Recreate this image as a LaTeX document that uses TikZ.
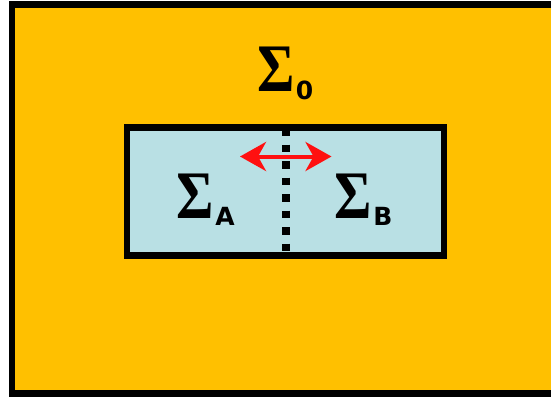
\documentclass[tikz,border=0pt]{standalone}
\usepackage{fontspec}
\usetikzlibrary{arrows.meta}
\newfontfamily\sigfont{Liberation Serif Bold}
\newfontfamily\subfont{DejaVu Sans Bold}
\definecolor{outerfill}{HTML}{FFC000}
\definecolor{innerfill}{HTML}{B9E0E4}
\definecolor{arrowred}{HTML}{FF1010}
\tikzset{
  sigmalabel/.style={anchor=base west, inner sep=0pt, outer sep=0pt},
  region/.style={draw=black, line width=6.5pt},
}
\newcommand{\mysig}[1]{{\fontsize{68}{68}\sigfont\scalebox{0.84}[1]{Σ}}\hspace{1.5pt}\raisebox{-7pt}{\fontsize{25}{25}\subfont #1}}
\begin{document}
\begin{tikzpicture}[x=1pt,y=-1pt]
  \useasboundingbox (0,0) rectangle (551,396);
  \clip (0,0) rectangle (551,396);
  \fill[white] (0,0) rectangle (551,396);
  % outer region
  \draw[region, fill=outerfill] (11.75,4.5) rectangle (570,393.25);
  % inner region
  \draw[region, fill=innerfill] (127,127.5) rectangle (444,255.5);
  % exchange arrow
  \coordinate (al) at (240,156.5);
  \coordinate (ar) at (331.5,156.5);
  \draw[arrowred, line width=4pt, {Stealth[length=26pt,width=29pt,inset=8pt]}-{Stealth[length=26pt,width=29pt,inset=8pt]}] (al) -- (ar);
  % partition
  \coordinate (pt) at (285.5,128);
  \coordinate (pb) at (285.5,252);
  \draw[black, line width=8pt, dash pattern=on 7.5pt off 9pt] (pt) -- (pb);
  % labels
  \node[sigmalabel] (s0) at (257,92) {\mysig{0}};
  \node[sigmalabel] (sA) at (176.5,218) {\mysig{A}};
  \node[sigmalabel] (sB) at (334.5,218) {\mysig{B}};
\end{tikzpicture}
\end{document}
